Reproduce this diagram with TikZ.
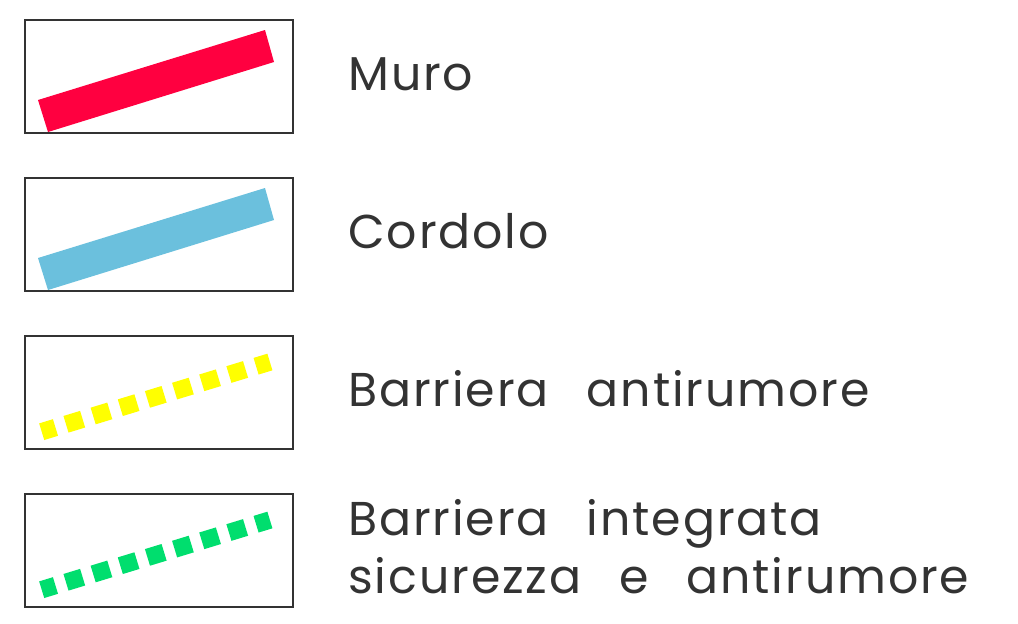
\documentclass[tikz,border=0pt]{standalone}
\usepackage{fontspec}
\setmainfont{Poppins}[LetterSpace=4,WordSpace=2.6]
\usepackage{tikz}
\usetikzlibrary{positioning}
\definecolor{muro}{RGB}{255,0,64}
\definecolor{cordolo}{RGB}{107,192,221}
\definecolor{barriera}{RGB}{255,255,0}
\definecolor{integrata}{RGB}{0,222,110}
\begin{document}
\begin{tikzpicture}[x=0.02cm,y=-0.02cm]
                    \tikzstyle{every node}+=[inner sep=0pt]
                    \tikzstyle{legbox}=[draw=black!80, line width=0.85pt]
                    \tikzstyle{legtext}=[anchor=base west, font=\fontsize{27}{33}\selectfont, text=black!80, align=left]
                    \tikzstyle{dashbar}=[line width=9.9pt, dash pattern=on 9.9pt off 6.26pt, dash phase=1.7pt]
                    \useasboundingbox (0,0) rectangle (1018,623);
                    % riquadri
                    \draw [legbox] (25,20) rectangle (293,133);
                    \draw [legbox] (25,178) rectangle (293,291);
                    \draw [legbox] (25,336) rectangle (293,449);
                    \draw [legbox] (25,494) rectangle (293,607);
                    % simboli
                    \fill [muro] (38,100) -- (265,30) -- (274,62) -- (48,132) -- cycle;
                    \fill [cordolo] (38,258) -- (265,188) -- (274,220) -- (48,290) -- cycle;
                    \coordinate (ya) at (41.7,431.7);
                    \coordinate (yb) at (269.9,362);
                    \draw [dashbar, barriera] (ya) -- (yb);
                    \coordinate (ga) at (41.7,589.7);
                    \coordinate (gb) at (269.9,520);
                    \draw [dashbar, integrata] (ga) -- (gb);
                    % testi
                    \node [legtext] (muro) at (348,90) {Muro};
                    \node [legtext] (cordolo) at (348,248) {Cordolo};
                    \node [legtext] (antirumore) at (348,406) {Barriera antirumore};
                    \node [legtext] (integrata) at (348,535) {Barriera integrata};
                    \node [legtext] (sicurezza) at (348,593) {sicurezza e antirumore};
                \end{tikzpicture}
\end{document}
